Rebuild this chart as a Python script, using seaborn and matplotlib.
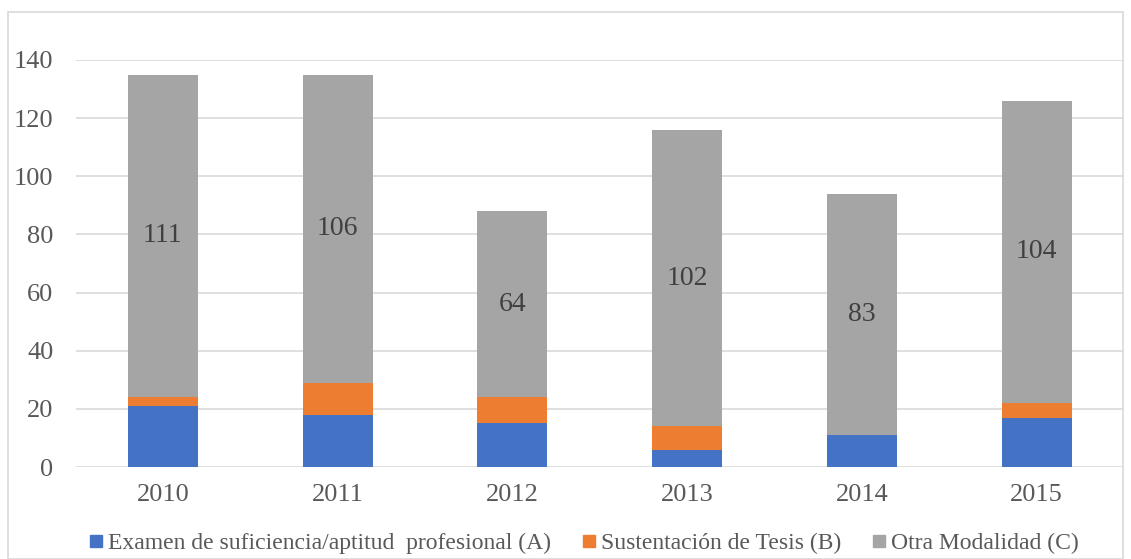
import numpy as np
import pandas as pd
import seaborn as sns
import matplotlib.pyplot as plt
from matplotlib.patches import Rectangle
from matplotlib.lines import Line2D

years = ['2010', '2011', '2012', '2013', '2014', '2015']
examen = [21, 18, 15, 6, 11, 17]
tesis = [3, 11, 9, 8, 0, 5]
otra = [111, 106, 64, 102, 83, 104]

labels = ['Examen de suficiencia/aptitud  profesional (A)',
          'Sustentación de Tesis (B)',
          'Otra Modalidad (C)']
colors = ['#4472C4', '#ED7D31', '#A5A5A5']

sns.set_style('white')
plt.rcParams['font.family'] = ['Liberation Serif', 'DejaVu Serif']

df = pd.DataFrame({'year': years, 'A': examen, 'B': tesis, 'C': otra})
bottom_b = np.array(examen)
bottom_c = bottom_b + np.array(tesis)

fig = plt.figure(figsize=(11.31, 5.59), dpi=100)
ax = fig.add_axes([75.5 / 1131, 1 - 467 / 559, (1124 - 75.5) / 1131, (467 - 60) / 559])

sns.barplot(data=df, x='year', y='A', color=colors[0], width=0.4, ax=ax,
            saturation=1, linewidth=0)
sns.barplot(data=df, x='year', y='B', color=colors[1], width=0.4, ax=ax,
            saturation=1, linewidth=0, bottom=bottom_b)
sns.barplot(data=df, x='year', y='C', color=colors[2], width=0.4, ax=ax,
            saturation=1, linewidth=0, bottom=bottom_c)

# data labels on the grey segment
for i, v in enumerate(otra):
    ax.text(i, bottom_c[i] + v / 2, str(v), ha='center', va='center',
            fontsize=20, color='#404040')

ax.set_ylim(0, 140)
ax.set_xlim(-0.5, 5.5)
ax.set_yticks(range(0, 141, 20))
ax.yaxis.grid(True, color='#D9D9D9', linewidth=1.2)
ax.set_axisbelow(True)
for s in ax.spines.values():
    s.set_visible(False)
ax.tick_params(axis='both', length=0, labelsize=19, labelcolor='#595959')
ax.tick_params(axis='y', pad=16)
ax.tick_params(axis='x', pad=12)
ax.set_xlabel('')
ax.set_ylabel('')

handles = [Line2D([], [], marker='s', linestyle='none', markersize=8,
                  markerfacecolor=c, markeredgecolor=c) for c in colors]
fig.legend(handles, labels, loc='center',
           bbox_to_anchor=(0.5 + 16 / 1131, 1 - 543 / 559),
           ncol=3, frameon=False, fontsize=17, handletextpad=0.0,
           handlelength=1.0, columnspacing=1.1, labelcolor='#595959')

# chart border
fig.patches.append(Rectangle((8 / 1131, 0), 1 - 16 / 1131, 1 - 12 / 559,
                             transform=fig.transFigure, fill=False,
                             edgecolor='#D9D9D9', linewidth=1.2))

plt.savefig('out.png', dpi=100)
